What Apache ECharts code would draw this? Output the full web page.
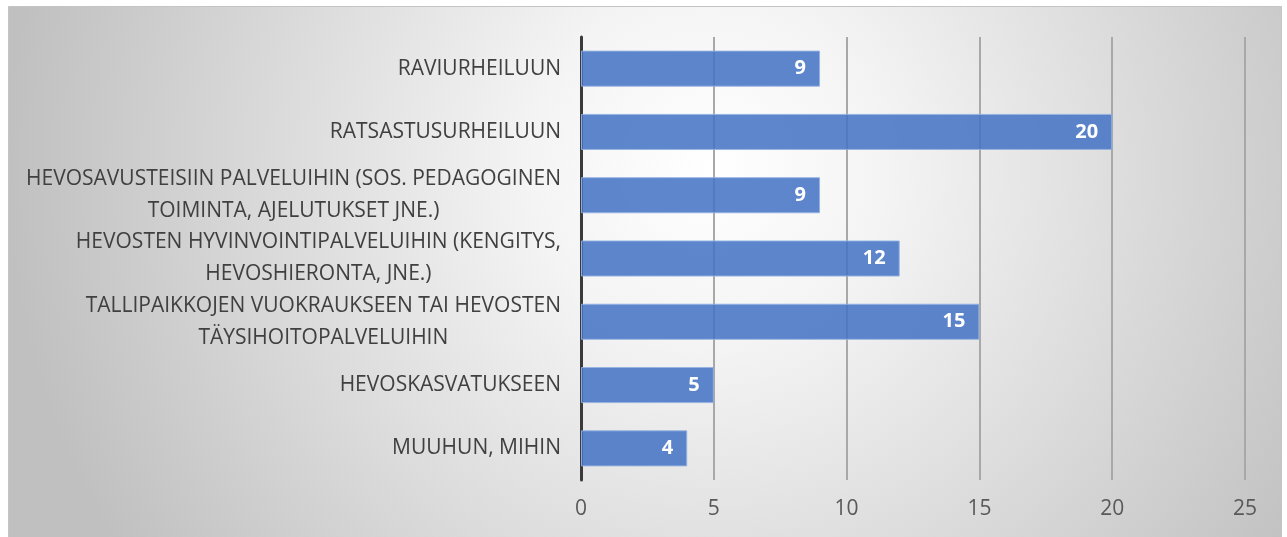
<!DOCTYPE html>
<html>
<head>
<meta charset="utf-8">
<script src="https://cdn.jsdelivr.net/npm/echarts@6/dist/echarts.min.js"></script>
<style>
  html, body { margin: 0; padding: 0; background: #ffffff; }
  #chart { width: 1287px; height: 537px; }
</style>
</head>
<body>
<div id="chart"></div>
<script>
// kategoriat ylhäältä alas
const categories = [
  "RAVIURHEILUUN",
  "RATSASTUSURHEILUUN",
  "HEVOSAVUSTEISIIN PALVELUIHIN (SOS. PEDAGOGINEN\nTOIMINTA, AJELUTUKSET JNE.)",
  "HEVOSTEN HYVINVOINTIPALVELUIHIN (KENGITYS,\nHEVOSHIERONTA, JNE.)",
  "TALLIPAIKKOJEN VUOKRAUKSEEN TAI HEVOSTEN\nTÄYSIHOITOPALVELUIHIN",
  "HEVOSKASVATUKSEEN",
  "MUUHUN, MIHIN"
];
const values = [9, 20, 9, 12, 15, 5, 4];
const xTicks = [0, 5, 10, 15, 20, 25];

const chart = echarts.init(document.getElementById("chart"));
chart.setOption({
  animation: false,
  graphic: [
    {
      type: "rect",
      z: -10,
      silent: true,
      shape: { x: 8.5, y: 6.5, width: 1273, height: 540 },
      style: {
        fill: new echarts.graphic.RadialGradient(0.55, 0.3, 1.3, [
          { offset: 0, color: "#ffffff" },
          { offset: 0.25, color: "#f4f4f4" },
          { offset: 1, color: "#c0c0c0" }
        ]),
        stroke: "#c4c4c4",
        lineWidth: 1
      }
    }
  ],
  grid: {
    left: 581,
    right: 42,
    top: 37,
    bottom: 57,
    containLabel: false
  },
  xAxis: {
    type: "value",
    min: xTicks[0],
    max: xTicks[xTicks.length - 1],
    interval: 5,
    axisLine: { show: false },
    axisTick: { show: false },
    splitLine: { show: true, lineStyle: { color: "#a8a8a8", width: 2 } },
    axisLabel: {
      color: "#595959",
      fontSize: 21,
      fontFamily: "Open Sans",
      margin: 19
    }
  },
  yAxis: {
    type: "category",
    inverse: true,
    data: categories,
    axisTick: { show: false },
    axisLine: { show: true, lineStyle: { color: "#3a3a3a", width: 3 } },
    axisLabel: {
      color: "#404040",
      fontSize: 21,
      fontFamily: "Open Sans",
      margin: 20,
      lineHeight: 32,
      formatter: (val) => val.split("\n").map((l) => "{c|" + l + "}").join("\n"),
      rich: {
        c: {
          align: "center",
          color: "#404040",
          fontSize: 21,
          fontFamily: "Open Sans",
          lineHeight: 32
        }
      }
    }
  },
  series: [
    {
      type: "bar",
      data: values,
      barCategoryGap: "43%",
      itemStyle: {
        color: "rgba(68,114,196,0.86)",
        borderColor: "rgba(150,178,226,0.9)",
        borderWidth: 1
      },
      label: {
        show: true,
        position: "insideRight",
        offset: [-9, 0],
        color: "#ffffff",
        fontWeight: "bold",
        fontSize: 20,
        fontFamily: "Open Sans"
      }
    }
  ]
});
</script>
</body>
</html>
